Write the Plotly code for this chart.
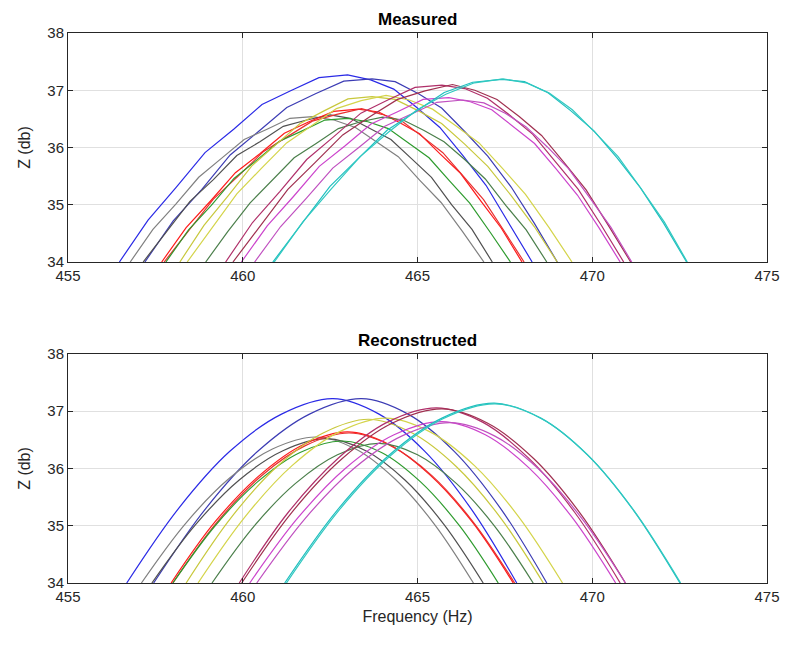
import plotly.graph_objects as go

# ---------------- data ----------------
freq_ticks = [455, 460, 465, 470, 475]
z_ticks = [34, 35, 36, 37, 38]

colors = ["#2a2ae6", "#3c3cb4", "#808080", "#505050", "#ff1a1a", "#e83030",
          "#2e9b2e", "#4b7f4b", "#c8c83c", "#d4d44a", "#b0306a", "#a03050",
          "#cc44cc", "#c050c0", "#1fbfbf", "#30c8c0"]

# Measured curves (frequency, Z)
meas_f = [
    [456.47, 457.29, 458.10, 458.92, 459.74, 460.55, 461.37, 462.18, 463.0, 463.66, 464.32, 464.98, 465.64, 466.30, 466.96, 467.62, 468.28],
    [457.2, 458.01, 458.83, 459.64, 460.45, 461.26, 462.08, 462.89, 463.7, 464.36, 465.03, 465.69, 466.35, 467.01, 467.68, 468.34, 469.0],
    [456.78, 457.43, 458.085, 458.74, 459.39, 460.04, 460.695, 461.35, 462.0, 462.61, 463.225, 463.84, 464.45, 465.06, 465.675, 466.29, 466.9],
    [457.15, 457.82, 458.49, 459.16, 459.83, 460.49, 461.16, 461.83, 462.5, 463.08, 463.66, 464.24, 464.82, 465.4, 465.98, 466.56, 467.14],
    [457.68, 458.38, 459.085, 459.79, 460.49, 461.19, 461.895, 462.60, 463.3, 463.89, 464.47, 465.06, 465.645, 466.23, 466.82, 467.40, 467.99],
    [457.75, 458.46, 459.16, 459.87, 460.575, 461.28, 461.99, 462.69, 463.4, 463.98, 464.56, 465.14, 465.725, 466.31, 466.89, 467.47, 468.05],
    [457.8, 458.45, 459.1, 459.75, 460.4, 461.05, 461.7, 462.35, 463.0, 463.58, 464.165, 464.75, 465.33, 465.91, 466.495, 467.08, 467.66],
    [458.94, 459.57, 460.205, 460.84, 461.47, 462.10, 462.735, 463.37, 464.0, 464.59, 465.175, 465.76, 466.35, 466.94, 467.525, 468.11, 468.7],
    [458.2, 458.89, 459.575, 460.26, 460.95, 461.64, 462.325, 463.01, 463.7, 464.36, 465.03, 465.69, 466.35, 467.01, 467.68, 468.34, 469.0],
    [458.41, 459.12, 459.83, 460.54, 461.255, 461.97, 462.68, 463.39, 464.1, 464.765, 465.43, 466.095, 466.76, 467.425, 468.09, 468.755, 469.42],
    [459.51, 460.28, 461.06, 461.83, 462.605, 463.38, 464.15, 464.93, 465.7, 466.35, 467.0, 467.65, 468.3, 468.95, 469.6, 470.25, 470.9],
    [459.72, 460.505, 461.29, 462.075, 462.86, 463.645, 464.43, 465.215, 466.0, 466.64, 467.275, 467.91, 468.55, 469.19, 469.825, 470.46, 471.1],
    [459.96, 460.70, 461.445, 462.19, 462.93, 463.67, 464.415, 465.16, 465.9, 466.51, 467.125, 467.74, 468.35, 468.96, 469.575, 470.19, 470.8],
    [460.34, 461.085, 461.83, 462.575, 463.32, 464.065, 464.81, 465.555, 466.3, 466.90, 467.51, 468.11, 468.715, 469.32, 469.92, 470.53, 471.13],
    [460.86, 461.68, 462.495, 463.31, 464.13, 464.95, 465.765, 466.58, 467.4, 468.06, 468.725, 469.39, 470.05, 470.71, 471.375, 472.04, 472.7],
    [460.9, 461.72, 462.54, 463.36, 464.175, 464.99, 465.81, 466.63, 467.45, 468.11, 468.77, 469.43, 470.085, 470.74, 471.40, 472.06, 472.72],
]
meas_z = [
    [34.0, 34.73, 35.31, 35.91, 36.32, 36.75, 36.99, 37.22, 37.27, 37.18, 37.02, 36.70, 36.35, 35.86, 35.34, 34.68, 34.0],
    [34.0, 34.72, 35.27, 35.87, 36.28, 36.70, 36.94, 37.16, 37.20, 37.15, 36.94, 36.69, 36.28, 35.85, 35.31, 34.68, 34.0],
    [34.0, 34.57, 35.01, 35.48, 35.81, 36.14, 36.32, 36.51, 36.54, 36.48, 36.35, 36.09, 35.84, 35.43, 35.04, 34.53, 34.0],
    [34.0, 34.53, 35.06, 35.44, 35.86, 36.10, 36.37, 36.48, 36.57, 36.51, 36.33, 36.14, 35.81, 35.48, 35.00, 34.57, 34.0],
    [34.0, 34.60, 35.07, 35.56, 35.89, 36.25, 36.45, 36.63, 36.67, 36.62, 36.44, 36.24, 35.89, 35.55, 35.06, 34.59, 34.0],
    [34.0, 34.55, 35.10, 35.50, 35.92, 36.19, 36.46, 36.58, 36.68, 36.58, 36.46, 36.19, 35.91, 35.50, 35.09, 34.55, 34.0],
    [34.0, 34.56, 34.99, 35.46, 35.78, 36.11, 36.29, 36.48, 36.51, 36.45, 36.33, 36.07, 35.82, 35.42, 35.03, 34.52, 34.0],
    [34.0, 34.53, 35.03, 35.42, 35.82, 36.07, 36.33, 36.45, 36.53, 36.48, 36.30, 36.10, 35.79, 35.45, 34.99, 34.56, 34.0],
    [34.0, 34.64, 35.15, 35.68, 36.05, 36.42, 36.64, 36.85, 36.89, 36.84, 36.64, 36.42, 36.06, 35.67, 35.16, 34.62, 34.0],
    [34.0, 34.60, 35.19, 35.64, 36.08, 36.38, 36.68, 36.82, 36.91, 36.83, 36.67, 36.38, 36.08, 35.64, 35.18, 34.61, 34.0],
    [34.0, 34.69, 35.23, 35.79, 36.19, 36.60, 36.83, 37.05, 37.09, 37.03, 36.86, 36.56, 36.23, 35.75, 35.27, 34.65, 34.0],
    [34.0, 34.64, 35.27, 35.74, 36.22, 36.54, 36.84, 36.99, 37.10, 37.00, 36.84, 36.54, 36.21, 35.74, 35.26, 34.64, 34.0],
    [34.0, 34.63, 35.14, 35.67, 36.03, 36.41, 36.62, 36.84, 36.87, 36.80, 36.66, 36.37, 36.07, 35.63, 35.17, 34.60, 34.0],
    [34.0, 34.62, 35.12, 35.64, 36.00, 36.37, 36.58, 36.79, 36.83, 36.78, 36.60, 36.36, 36.01, 35.63, 35.13, 34.61, 34.0],
    [34.0, 34.67, 35.32, 35.81, 36.30, 36.63, 36.96, 37.14, 37.19, 37.15, 36.96, 36.64, 36.29, 35.82, 35.30, 34.68, 34.0],
    [34.0, 34.70, 35.28, 35.84, 36.27, 36.66, 36.93, 37.13, 37.20, 37.13, 36.95, 36.66, 36.26, 35.84, 35.28, 34.70, 34.0],
]

# Reconstructed curves (frequency, Z)
rec_f = [
    [456.68, 458.16, 459.63, 461.11, 462.58, 463.90, 465.21, 466.53, 467.84],
    [457.45, 458.94, 460.43, 461.91, 463.4, 464.73, 466.05, 467.38, 468.7],
    [457.1, 458.35, 459.6, 460.85, 462.1, 463.23, 464.35, 465.48, 466.6],
    [457.4, 458.65, 459.9, 461.15, 462.4, 463.52, 464.64, 465.76, 466.88],
    [457.95, 459.21, 460.48, 461.74, 463.0, 464.19, 465.37, 466.56, 467.74],
    [458.0, 459.26, 460.53, 461.79, 463.05, 464.23, 465.42, 466.6, 467.78],
    [458.0, 459.21, 460.43, 461.64, 462.85, 463.97, 465.08, 466.20, 467.31],
    [459.12, 460.32, 461.51, 462.71, 463.9, 465.0, 466.11, 467.21, 468.31],
    [458.38, 459.69, 460.99, 462.30, 463.6, 464.85, 466.1, 467.35, 468.6],
    [458.72, 460.07, 461.41, 462.76, 464.1, 465.36, 466.63, 467.89, 469.15],
    [459.9, 461.31, 462.73, 464.14, 465.55, 466.86, 468.18, 469.49, 470.8],
    [459.97, 461.40, 462.84, 464.27, 465.7, 467.01, 468.33, 469.64, 470.95],
    [460.2, 461.58, 462.95, 464.33, 465.7, 466.94, 468.19, 469.43, 470.67],
    [460.4, 461.79, 463.18, 464.56, 465.95, 467.2, 468.45, 469.7, 470.95],
    [461.2, 462.7, 464.2, 465.7, 467.2, 468.53, 469.86, 471.18, 472.51],
    [461.25, 462.74, 464.24, 465.73, 467.22, 468.55, 469.88, 471.2, 472.53],
]
rec_z = [
    [34.0, 35.30, 36.30, 36.95, 37.22, 36.95, 36.30, 35.30, 34.0],
    [34.0, 35.30, 36.30, 36.95, 37.22, 36.95, 36.30, 35.30, 34.0],
    [34.0, 35.03, 35.82, 36.34, 36.55, 36.34, 35.82, 35.03, 34.0],
    [34.0, 35.02, 35.80, 36.31, 36.52, 36.31, 35.80, 35.02, 34.0],
    [34.0, 35.07, 35.88, 36.42, 36.64, 36.42, 35.88, 35.07, 34.0],
    [34.0, 35.06, 35.87, 36.40, 36.62, 36.40, 35.87, 35.06, 34.0],
    [34.0, 35.00, 35.77, 36.28, 36.48, 36.28, 35.77, 35.00, 34.0],
    [34.0, 34.99, 35.74, 36.24, 36.44, 36.24, 35.74, 34.99, 34.0],
    [34.0, 35.16, 36.04, 36.62, 36.86, 36.62, 36.04, 35.16, 34.0],
    [34.0, 35.16, 36.05, 36.64, 36.88, 36.64, 36.05, 35.16, 34.0],
    [34.0, 35.24, 36.18, 36.81, 37.06, 36.81, 36.18, 35.24, 34.0],
    [34.0, 35.23, 36.17, 36.79, 37.04, 36.79, 36.17, 35.23, 34.0],
    [34.0, 35.14, 36.01, 36.59, 36.82, 36.59, 36.01, 35.14, 34.0],
    [34.0, 35.13, 36.00, 36.57, 36.80, 36.57, 36.00, 35.13, 34.0],
    [34.0, 35.27, 36.24, 36.88, 37.14, 36.88, 36.24, 35.27, 34.0],
    [34.0, 35.26, 36.23, 36.87, 37.13, 36.87, 36.23, 35.26, 34.0],
]

# ---------------- figure ----------------
FONT = "Liberation Sans, Arial, sans-serif"
fig = go.Figure()
for i in range(len(meas_f)):
    fig.add_trace(go.Scatter(x=meas_f[i], y=meas_z[i], mode="lines",
                             line=dict(color=colors[i], width=1.2),
                             xaxis="x", yaxis="y", showlegend=False))
for i in range(len(rec_f)):
    fig.add_trace(go.Scatter(x=rec_f[i], y=rec_z[i], mode="lines",
                             line=dict(color=colors[i], width=1.2, shape="spline", smoothing=1.0),
                             xaxis="x2", yaxis="y2", showlegend=False))

axis_common = dict(
    showline=True, linecolor="#262626", linewidth=1, mirror="ticks",
    ticks="inside", ticklen=5, tickcolor="#262626", automargin=False,
    showgrid=True, gridcolor="#e0e0e0", gridwidth=1, zeroline=False,
    tickfont=dict(family=FONT, size=15, color="#262626"),
)
title_font = dict(family=FONT, size=16, color="#262626")
fig.update_layout(
    width=785, height=649,
    paper_bgcolor="white", plot_bgcolor="white",
    margin=dict(l=68, r=18, t=33, b=66),
    xaxis=dict(domain=[0, 1], range=[455, 475], tickvals=freq_ticks, anchor="y", **axis_common),
    yaxis=dict(domain=[0.5836, 1], range=[34, 38], tickvals=z_ticks, anchor="x",
               title=dict(text="Z (db)", font=title_font, standoff=12), **axis_common),
    xaxis2=dict(domain=[0, 1], range=[455, 475], tickvals=freq_ticks, anchor="y2",
                title=dict(text="Frequency (Hz)", font=title_font, standoff=6), **axis_common),
    yaxis2=dict(domain=[0, 0.4164], range=[34, 38], tickvals=z_ticks, anchor="x2",
                title=dict(text="Z (db)", font=title_font, standoff=12), **axis_common),
    annotations=[
        dict(text="<b>Measured</b>", x=0.5, y=1, xref="paper", yref="paper",
             xanchor="center", yanchor="bottom", yshift=2, showarrow=False,
             font=dict(family=FONT, size=17, color="black")),
        dict(text="<b>Reconstructed</b>", x=0.5, y=0.4164, xref="paper", yref="paper",
             xanchor="center", yanchor="bottom", yshift=2, showarrow=False,
             font=dict(family=FONT, size=17, color="black")),
    ],
)
fig.write_html("out.html", config={"displayModeBar": False},
               post_script="document.body.style.margin='0';document.body.style.overflow='hidden';")
